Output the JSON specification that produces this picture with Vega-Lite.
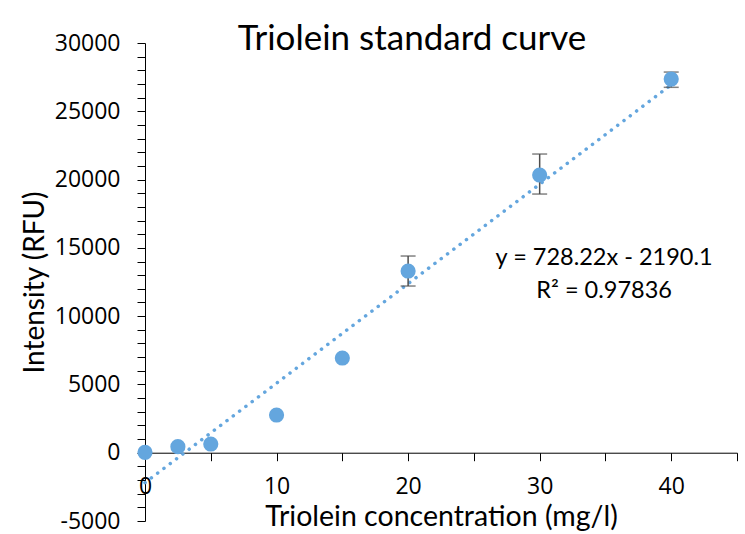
{
  "$schema": "https://vega.github.io/schema/vega-lite/v6.json",
  "width": 592,
  "height": 478,
  "autosize": {"type": "none"},
  "padding": {"left": 145, "top": 43, "right": 8, "bottom": 13},
  "background": "white",
  "config": {
    "font": "Lato",
    "view": {"stroke": null},
    "axis": {"grid": false, "domainColor": "#000000", "tickColor": "#000000", "labelColor": "#000000", "titleColor": "#000000", "labelFont": "Open Sans", "titleFont": "Lato", "labelFontSize": 23, "titleFontSize": 28.5, "titleFontWeight": "normal", "tickSize": 8, "domainWidth": 1, "tickWidth": 1, "labelOverlap": false}
  },
  "title": {"text": "Triolein standard curve", "font": "Lato", "fontSize": 35, "fontWeight": "normal", "color": "#000000", "frame": "group", "anchor": "middle", "baseline": "alphabetic", "offset": -53, "dx": -29},
  "datasets": {
    "points": [
      {"conc": 0, "rfu": 30},
      {"conc": 2.5, "rfu": 440},
      {"conc": 5, "rfu": 637},
      {"conc": 10, "rfu": 2760},
      {"conc": 15, "rfu": 6934},
      {"conc": 20, "rfu": 13304},
      {"conc": 30, "rfu": 20332},
      {"conc": 40, "rfu": 27359}
    ],
    "errors": [
      {"conc": 20, "lo": 12205, "hi": 14402},
      {"conc": 30, "lo": 18940, "hi": 21870},
      {"conc": 40, "lo": 26755, "hi": 27872}
    ],
    "trend": [
      {"conc": 0, "rfu": -2190.1},
      {"conc": 40, "rfu": 26938.7}
    ],
    "eq": [
      {"conc": 34.9, "rfu": 13745, "label": "y = 728.22x - 2190.1"},
      {"conc": 34.9, "rfu": 11305, "label": "R² = 0.97836"}
    ]
  },
  "layer": [
    {
      "data": {"name": "trend"},
      "mark": {"type": "line", "color": "#64A6DE", "strokeWidth": 3.5, "strokeDash": [0.1, 7.8], "strokeCap": "round"},
      "encoding": {
        "x": {"field": "conc", "type": "quantitative", "scale": {"domain": [0, 45], "nice": false, "zero": false},
          "axis": {"values": [0, 5, 10, 15, 20, 25, 30, 35, 40, 45], "tickCount": 50, "labelExpr": "datum.value % 10 == 0 ? '' + datum.value : ''", "offset": -68.29, "labelPadding": 15, "title": "Triolein concentration (mg/l)", "titlePadding": 4, "labelFlush": false}},
        "y": {"field": "rfu", "type": "quantitative", "scale": {"domain": [-5000, 30000], "nice": false, "zero": false},
          "axis": {"values": [-5000, -4000, -3000, -2000, -1000, 0, 1000, 2000, 3000, 4000, 5000, 6000, 7000, 8000, 9000, 10000, 11000, 12000, 13000, 14000, 15000, 16000, 17000, 18000, 19000, 20000, 21000, 22000, 23000, 24000, 25000, 26000, 27000, 28000, 29000, 30000], "tickCount": 100, "labelExpr": "datum.value % 5000 == 0 ? '' + datum.value : ''", "labelPadding": 17, "title": "Intensity (RFU)", "titleFontSize": 28, "titlePadding": 5, "labelFlush": false}}
      }
    },
    {
      "data": {"name": "errors"},
      "mark": {"type": "rule", "color": "#4d4d4d", "strokeWidth": 1.5},
      "encoding": {
        "x": {"field": "conc", "type": "quantitative"},
        "y": {"field": "lo", "type": "quantitative"},
        "y2": {"field": "hi"}
      }
    },
    {
      "data": {"name": "errors"},
      "mark": {"type": "tick", "orient": "horizontal", "color": "#4d4d4d", "size": 15, "thickness": 1.5},
      "encoding": {
        "x": {"field": "conc", "type": "quantitative"},
        "y": {"field": "lo", "type": "quantitative"}
      }
    },
    {
      "data": {"name": "errors"},
      "mark": {"type": "tick", "orient": "horizontal", "color": "#4d4d4d", "size": 15, "thickness": 1.5},
      "encoding": {
        "x": {"field": "conc", "type": "quantitative"},
        "y": {"field": "hi", "type": "quantitative"}
      }
    },
    {
      "data": {"name": "points"},
      "mark": {"type": "circle", "color": "#64A6DE", "opacity": 1, "size": 230},
      "encoding": {
        "x": {"field": "conc", "type": "quantitative"},
        "y": {"field": "rfu", "type": "quantitative"}
      }
    },
    {
      "data": {"name": "eq"},
      "mark": {"type": "text", "font": "Lato", "fontSize": 23.5, "color": "#000000", "align": "center", "baseline": "alphabetic"},
      "encoding": {
        "x": {"field": "conc", "type": "quantitative"},
        "y": {"field": "rfu", "type": "quantitative"},
        "text": {"field": "label"}
      }
    }
  ]
}
